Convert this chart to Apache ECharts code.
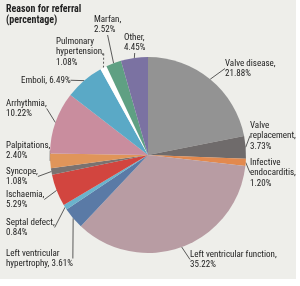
<!DOCTYPE html>
<html>
<head>
<meta charset="utf-8">
<style>
  html, body { margin: 0; padding: 0; background: #fff; }
  #chart { width: 300px; height: 286px; }
</style>
<script src="https://cdn.jsdelivr.net/npm/echarts@6/dist/echarts.min.js"></script>
</head>
<body>
<div id="chart"></div>
<script>
// 转诊原因 (顺时针, 从12点钟开始)
var names = ['Valve disease', 'Valve replacement', 'Infective endocarditis', 'Left ventricular function',
  'Left ventricular hypertrophy', 'Septal defect', 'Ischaemia', 'Syncope', 'Palpitations',
  'Arrhythmia', 'Emboli', 'Pulmonary hypertension', 'Marfan', 'Other'];
var values = [21.88, 3.73, 1.20, 35.22, 3.61, 0.84, 5.29, 1.08, 2.40, 10.22, 6.49, 1.08, 2.52, 4.45];
var labelTexts = [
  'Valve disease,\n21.88%', 'Valve\nreplacement,\n3.73%', 'Infective\nendocarditis,\n1.20%',
  'Left ventricular function,\n35.22%', 'Left ventricular\nhypertrophy, 3.61%', 'Septal defect,\n0.84%',
  'Ischaemia,\n5.29%', 'Syncope,\n1.08%', 'Palpitations,\n2.40%', 'Arrhythmia,\n10.22%',
  'Emboli, 6.49%', 'Pulmonary\nhypertension,\n1.08%', 'Marfan,\n2.52%', 'Other,\n4.45%'
];
var colors = ['#939393', '#6f6b6b', '#e2894e', '#b89ca3', '#5a7aa6', '#6bb3cc', '#d2453f',
  '#7a7270', '#e0955a', '#c98d9e', '#5aa9c6', '#ffffff', '#5fa083', '#7b72a2'];

// 标签左上角位置
var labelPos = [
  [225, 58], [250, 120], [250, 157], [190, 249], [6, 248], [6, 217], [6, 189],
  [6, 166], [6, 140], [6, 98], [21, 75], [56, 36], [94, 14], [124, 32]
];

var FONT = '"Roboto Condensed", "Liberation Sans", sans-serif';

var chart = echarts.init(document.getElementById('chart'));

chart.setOption({
  backgroundColor: '#ffffff',
  graphic: [{
    type: 'rect',
    z: -1,
    shape: { x: 0, y: 0, width: 296, height: 279 },
    style: { fill: '#eeeeea' }
  }],
  title: {
    text: 'Reason for referral\n(percentage)',
    left: 6,
    top: 4,
    padding: 0,
    textStyle: {
      fontFamily: FONT,
      fontSize: 10,
      fontWeight: 'bold',
      color: '#222',
      lineHeight: 11
    }
  },
  series: [{
    type: 'pie',
    center: [148, 155],
    radius: [0, 98],
    startAngle: 90,
    clockwise: true,
    silent: true,
    avoidLabelOverlap: false,
    data: values.map(function (v, i) {
      return {
        name: names[i],
        value: v,
        itemStyle: { color: colors[i] },
        label: { formatter: labelTexts[i] },
        labelLine: i === 11 ? { lineStyle: { type: [2, 2] } } : {}
      };
    }),
    label: {
      show: true,
      fontFamily: FONT,
      fontSize: 9,
      lineHeight: 10.5,
      color: '#222'
    },
    labelLine: {
      show: true,
      length: 0,
      length2: 0,
      lineStyle: { color: '#333', width: 0.8 }
    },
    labelLayout: function (params) {
      var p = labelPos[params.dataIndex];
      return { x: p[0], y: p[1], align: 'left', verticalAlign: 'top' };
    }
  }]
});
</script>
</body>
</html>
